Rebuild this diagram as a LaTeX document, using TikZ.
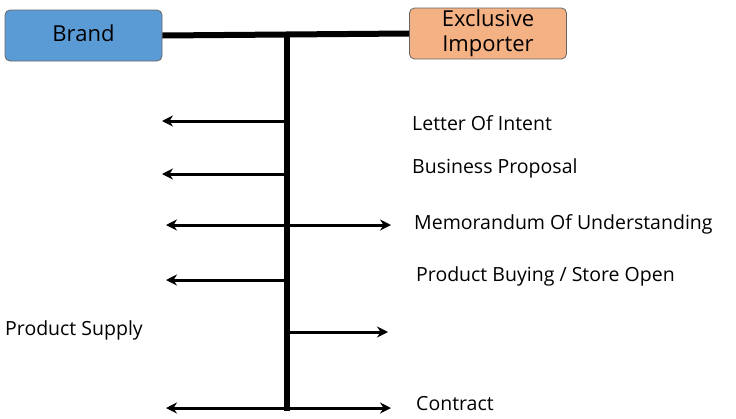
\documentclass[tikz,border=0pt]{standalone}
\usepackage{fontspec}
\setmainfont{Open Sans}
\usetikzlibrary{arrows.meta}
\begin{document}
\begin{tikzpicture}[x=1pt,y=-1pt,
  box/.style={draw=black!60,line width=0.8pt,rounded corners=5pt,minimum width=157pt,minimum height=51pt,inner sep=0pt,font=\fontsize{22}{22}\selectfont,align=center},
  lbl/.style={anchor=west,inner sep=0pt,font=\fontsize{19.5}{19.5}\selectfont},
  thick line/.style={line width=6pt},
  arr/.style={line width=3pt,-{Stealth[length=11pt,width=11pt]}},
  darr/.style={line width=3pt,{Stealth[length=11pt,width=11pt]}-{Stealth[length=11pt,width=11pt]}}]
\useasboundingbox (0,0) rectangle (736,418);
\definecolor{brandblue}{HTML}{5B9BD5}
\definecolor{imporange}{HTML}{F4B183}
\node[box,fill=brandblue,text depth=4pt] (brand) at (83.5,35.5) {Brand};
\node[box,fill=imporange,font=\fontsize{22}{25}\selectfont] (imp) at (488,33.5) {Exclusive\\Importer};
\coordinate (top) at (287,36);
\coordinate (bot) at (287,411);
\draw[thick line] (brand.east) -- (imp.west);
\draw[thick line] (top) -- (bot);
% arrows
\coordinate (a1s) at (287,121); \coordinate (a1e) at (162,121);
\coordinate (a2s) at (287,174); \coordinate (a2e) at (162,174);
\coordinate (a3s) at (166,225); \coordinate (a3e) at (391,225);
\coordinate (a4s) at (287,280); \coordinate (a4e) at (166,280);
\coordinate (a5s) at (287,332); \coordinate (a5e) at (388,332);
\coordinate (a6s) at (166,408); \coordinate (a6e) at (391,408);
\draw[arr] (a1s) -- (a1e);
\draw[arr] (a2s) -- (a2e);
\draw[darr] (a3s) -- (a3e);
\draw[arr] (a4s) -- (a4e);
\draw[arr] (a5s) -- (a5e);
\draw[darr] (a6s) -- (a6e);
\node[lbl] (t1) at (412,123) {Letter Of Intent};
\node[lbl] (t2) at (412,168) {Business Proposal};
\node[lbl] (t3) at (414,224) {Memorandum Of Understanding};
\node[lbl] (t4) at (416,276) {Product Buying / Store Open};
\node[lbl] (t5) at (5,330) {Product Supply};
\node[lbl] (t6) at (416,404) {Contract};
\end{tikzpicture}
\end{document}
